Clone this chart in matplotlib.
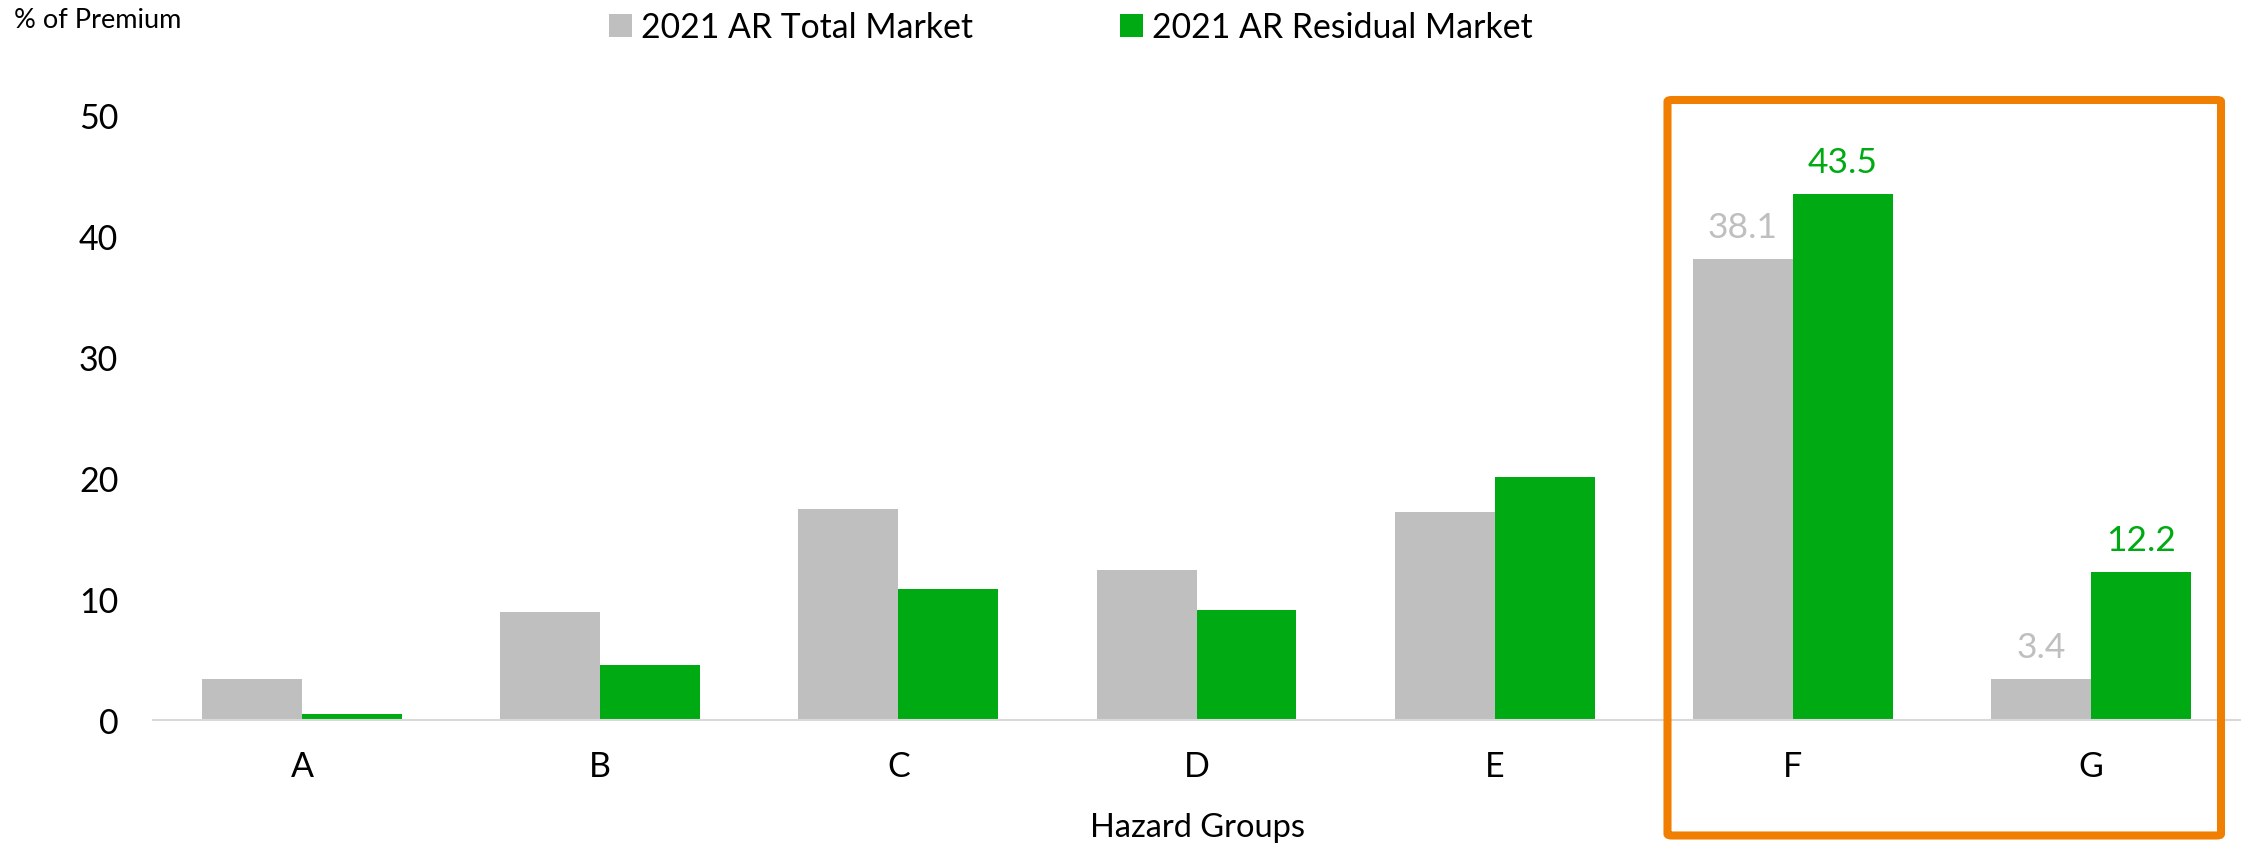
import matplotlib
matplotlib.use("Agg")
import matplotlib.pyplot as plt
import numpy as np
from matplotlib.patches import FancyBboxPatch

categories = ["A", "B", "C", "D", "E", "F", "G"]
total_market = [3.4, 8.9, 17.4, 12.4, 17.2, 38.1, 3.4]
residual_market = [0.5, 4.5, 10.8, 9.1, 20.1, 43.5, 12.2]
labeled = ["F", "G"]
series_names = ["2021 AR Total Market", "2021 AR Residual Market"]
yticks = [0, 10, 20, 30, 40, 50]

GRAY = "#BFBFBF"
GREEN = "#00AA13"
ORANGE = "#F07E00"
FONT = "Lato"

plt.rcParams["font.family"] = [FONT, "DejaVu Sans"]

W, H = 2241, 845
fig = plt.figure(figsize=(W / 100, H / 100), dpi=100)
ax = fig.add_axes([153 / W, 1 - 720.7 / H, (2240 - 153) / W, (720.7 - 116.2) / H])

x = np.arange(len(categories))
bw = 0.335
b1 = ax.bar(x - bw / 2, total_market, bw, color=GRAY, label=series_names[0])
b2 = ax.bar(x + bw / 2, residual_market, bw, color=GREEN, label=series_names[1])

ax.set_xlim(-0.5, len(categories) - 0.5)
ax.set_ylim(0, 50)
ax.set_yticks(yticks)
ax.set_xticks(x)
ax.set_xticklabels(categories)
ax.tick_params(axis="both", length=0, labelsize=24.5, colors="black")
ax.tick_params(axis="y", pad=25)
ax.tick_params(axis="x", pad=22)
for s in ["left", "right", "top"]:
    ax.spines[s].set_visible(False)
ax.spines["bottom"].set_color("#D9D9D9")
ax.spines["bottom"].set_linewidth(1.5)

for i, c in enumerate(categories):
    if c in labeled:
        ax.annotate(f"{total_market[i]:.1f}", (x[i] - bw / 2, total_market[i]),
                    xytext=(0, 15.8), textcoords="offset points",
                    ha="center", va="baseline", fontsize=25.5, color=GRAY)
        ax.annotate(f"{residual_market[i]:.1f}", (x[i] + bw / 2, residual_market[i]),
                    xytext=(0, 15.8), textcoords="offset points",
                    ha="center", va="baseline", fontsize=25.5, color=GREEN)

fig.text(14 / W, 1 - 28 / H, "% of Premium", fontsize=19.5, va="baseline", ha="left")
fig.text(1198 / W, 1 - 837 / H, "Hazard Groups", fontsize=23.5, va="baseline", ha="center")

fig.legend(handles=[b1, b2], labels=series_names, loc="center",
           bbox_to_anchor=(1071 / W, 1 - 28.5 / H), ncol=2, frameon=False,
           fontsize=24.3, handlelength=0.68, handleheight=0.68, handletextpad=0.27,
           columnspacing=4.35, borderpad=0, borderaxespad=0)

# orange highlight box (figure pixel coordinates)
left, right, top, bottom = 1667.5, 2221, 101, 836.5
box = FancyBboxPatch((left / W, 1 - bottom / H), (right - left) / W, (bottom - top) / H,
                     boxstyle="round,pad=0,rounding_size=0.002",
                     transform=fig.transFigure, fill=False, edgecolor=ORANGE,
                     linewidth=5.8, clip_on=False)
fig.patches.append(box)

fig.savefig("out.png", dpi=100)
